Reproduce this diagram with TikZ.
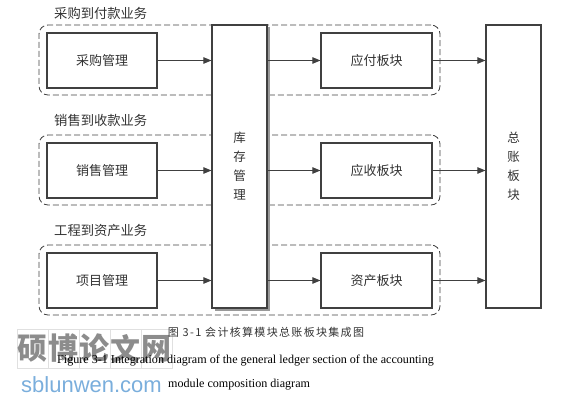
\documentclass[tikz,border=0pt]{standalone}
\usepackage{fontspec}
\setmainfont{Liberation Serif}
\newfontfamily\cjk{Noto Sans CJK SC}
\newfontfamily\cjkcap{Noto Sans CJK SC}[LetterSpace=12]
\newfontfamily\wmsans{Liberation Sans}
\usetikzlibrary{arrows.meta,shadows}
\definecolor{ln}{HTML}{404040}
\definecolor{tx}{HTML}{333333}
\definecolor{wmblue}{HTML}{7AAEDC}
\begin{document}
\begin{tikzpicture}[x=1pt,y=-1pt,
  box/.style={draw=ln,line width=1.2pt,fill=white,inner sep=0pt,text=tx,
    font=\cjk\fontsize{13}{14}\selectfont},
  tall/.style={box,minimum width=55pt,minimum height=283pt,align=center,
    font=\cjk\fontsize{12.5}{19}\selectfont},
  grp/.style={draw=ln,dash pattern=on 6pt off 3pt,rounded corners=9pt,line width=0.8pt,
    inner sep=0pt,minimum width=401pt,minimum height=70pt},
  glabel/.style={anchor=west,inner sep=0pt,text=tx,font=\cjk\fontsize{13.3}{14}\selectfont},
  arr/.style={draw=ln,line width=1pt,-{Triangle[length=8pt,width=6.5pt]}},
  wm/.style={draw=black!12,minimum width=31pt,minimum height=39pt,inner sep=0pt,
    text=black!45,font=\cjk\bfseries\fontsize{30}{32}\selectfont}]
\useasboundingbox (0,0) rectangle (576,401);
% groups
\node[grp] (g1) at (239.5,60) {};
\node[grp] (g2) at (239.5,170) {};
\node[grp] (g3) at (239.5,280) {};
\node[glabel] (l1) at (54,13) {采购到付款业务};
\node[glabel] (l2) at (54,120) {销售到收款业务};
\node[glabel] (l3) at (54,230) {工程到资产业务};
% left boxes
\node[box,minimum width=110pt,minimum height=55pt] (a1) at (102,60.5) {采购管理};
\node[box,minimum width=110pt,minimum height=55pt] (a2) at (102,170.5) {销售管理};
\node[box,minimum width=110pt,minimum height=55pt] (a3) at (102,280.5) {项目管理};
% stock
\node[tall,drop shadow={shadow xshift=2.5pt,shadow yshift=-2.5pt,fill=black!40,opacity=1}] (kc) at (239.5,166.5) {库\\存\\管\\理};
% right boxes
\node[box,minimum width=111pt,minimum height=55pt] (b1) at (376.5,60.5) {应付板块};
\node[box,minimum width=111pt,minimum height=55pt] (b2) at (376.5,170.5) {应收板块};
\node[box,minimum width=111pt,minimum height=55pt] (b3) at (376.5,280.5) {资产板块};
% ledger
\node[tall] (zz) at (513.5,166.5) {总\\账\\板\\块};
% arrows
\foreach \i in {1,2,3}{
  \draw[arr] (a\i.east) -- (kc.west |- a\i.east);
  \draw[arr] (kc.east |- b\i.west) -- (b\i.west);
  \draw[arr] (b\i.east) -- (zz.west |- b\i.east);
}
% watermark
\foreach \c [count=\k from 0] in {硕,博,论,文,网}{
  \node[wm] (w\k) at (32.5+31*\k,348.5) {\c};
}
% captions
\node[inner sep=0pt,text=tx,font=\cjkcap\fontsize{11}{12}\selectfont] (cap1) at (266,332) {图 3-1 会计核算模块总账板块集成图};
\node[anchor=base west,inner sep=0pt,font=\fontsize{12.1}{13}\selectfont] (cap2) at (57,363) {Figure 3-1 Integration diagram of the general ledger section of the accounting};
\node[anchor=base west,inner sep=0pt,font=\fontsize{12.1}{13}\selectfont] (cap3) at (168,387) {module composition diagram};
\node[anchor=base west,inner sep=0pt,text=wmblue,font=\wmsans\fontsize{22}{24}\selectfont] (wm2) at (21,392) {sblunwen.com};
\end{tikzpicture}
\end{document}
